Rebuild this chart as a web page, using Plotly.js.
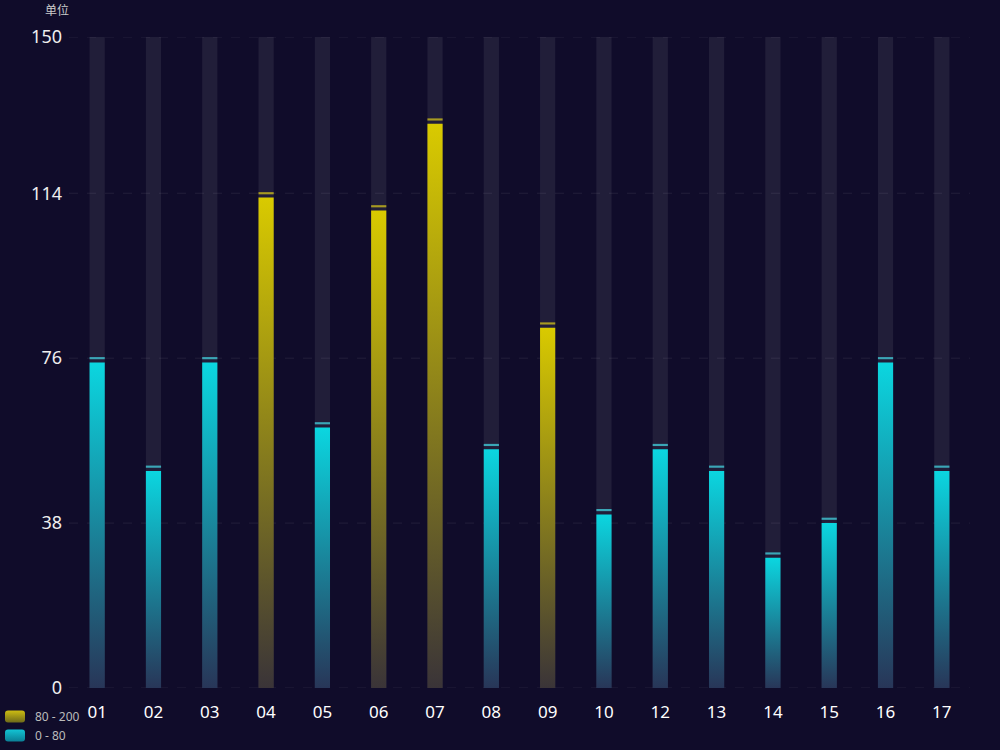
<!DOCTYPE html>
<html>
<head>
<meta charset="utf-8">
<script src="https://cdn.plot.ly/plotly-3.0.1.min.js"></script>
<style>
html,body{margin:0;padding:0;background:#100c2a;}
#chart{width:1000px;height:750px;}
</style>
</head>
<body>
<div id="chart"></div>
<script>
// ---- data ----
const categories = ['01','02','03','04','05','06','07','08','09','10','12','13','14','15','16','17'];
const values     = [75, 50, 75, 113, 60, 110, 130, 55, 83, 40, 55, 50, 30, 38, 75, 50];
const axisMax = 150;
const tickValues = [0, 38, 76, 114, 150];
const highLabel = '80 - 200';
const lowLabel = '0 - 80';
const threshold = 80;
const unitLabel = '单位';

// ---- styles ----
const BAR_W = 0.27;
const CAP_GAP = 0.75;
const CAP_H = 0.5;
const YELLOW_CAP = '#a79a22';
const CYAN_CAP = '#3ba6b6';

const highVals = values.map(v => v >= threshold ? v : null);
const lowVals  = values.map(v => v < threshold ? v : null);
const capBase = arr => arr.map(v => v === null ? null : v + CAP_GAP);
const capH = arr => arr.map(v => v === null ? null : CAP_H);

const traces = [
  { type:'bar', x:categories, y:categories.map(()=>axisMax), width:BAR_W,
    marker:{color:'rgba(255,255,255,0.075)'}, showlegend:false, hoverinfo:'skip' },
  { type:'bar', name:highLabel, x:categories, y:highVals, width:BAR_W,
    marker:{color:'#d4c600'}, legendgroup:'a' },
  { type:'bar', name:lowLabel, x:categories, y:lowVals, width:BAR_W,
    marker:{color:'#0bd2dc'}, legendgroup:'b' },
  { type:'bar', x:categories, y:capH(highVals), base:capBase(highVals), width:BAR_W,
    marker:{color:YELLOW_CAP}, showlegend:false, hoverinfo:'skip' },
  { type:'bar', x:categories, y:capH(lowVals), base:capBase(lowVals), width:BAR_W,
    marker:{color:CYAN_CAP}, showlegend:false, hoverinfo:'skip' }
];

const gridShapes = tickValues.map(v => ({
  type:'line', xref:'paper', yref:'y', x0:0, x1:1, y0:v, y1:v, layer:'below',
  line:{color:'rgba(255,255,255,0.08)', width:1, dash:'dash'}
}));

const layout = {
  width:1000, height:750,
  paper_bgcolor:'#100c2a', plot_bgcolor:'#100c2a',
  margin:{l:69, r:30, t:37, b:62, autoexpand:false},
  barmode:'overlay',
  font:{family:'"Noto Sans", "Noto Sans CJK SC", sans-serif', color:'#ffffff'},
  xaxis:{
    type:'category', categoryorder:'array', categoryarray:categories, automargin:false,
    showgrid:false, zeroline:false, showline:false, ticks:'',
    tickfont:{size:17, color:'#ffffff'}, ticklabelstandoff:12
  },
  yaxis:{
    range:[0, axisMax], tickvals:tickValues, ticktext:tickValues.map(String), automargin:false,
    showgrid:false, zeroline:false, showline:false, ticks:'',
    tickfont:{size:18, color:'#eeeeee'}, ticklabelstandoff:6
  },
  shapes:gridShapes,
  legend:{
    xref:'container', yref:'container', x:0, y:0, xanchor:'left', yanchor:'bottom',
    orientation:'v', font:{size:12, color:'#bbbbbb', family:'"Noto Sans", sans-serif'}, itemwidth:30,
    bgcolor:'rgba(0,0,0,0)', tracegroupgap:5, traceorder:'normal', itemclick:false
  },
  annotations:[{
    text:unitLabel, xref:'paper', yref:'paper', x:-0.013, y:1, xanchor:'center', yanchor:'bottom',
    yshift:17, showarrow:false, font:{size:12, color:'#cccccc', family:'"Noto Sans CJK SC", sans-serif'}
  }],
  showlegend:true
};

function addGradient(svg, id, top, bottom){
  const ns = 'http://www.w3.org/2000/svg';
  let defs = svg.querySelector('defs');
  if(!defs){ defs = document.createElementNS(ns,'defs'); svg.insertBefore(defs, svg.firstChild); }
  const g = document.createElementNS(ns,'linearGradient');
  g.setAttribute('id', id);
  g.setAttribute('x1','0'); g.setAttribute('y1','0'); g.setAttribute('x2','0'); g.setAttribute('y2','1');
  const s1 = document.createElementNS(ns,'stop'); s1.setAttribute('offset','0'); s1.setAttribute('stop-color', top);
  const s2 = document.createElementNS(ns,'stop'); s2.setAttribute('offset','1'); s2.setAttribute('stop-color', bottom);
  g.appendChild(s1); g.appendChild(s2); defs.appendChild(g);
}

Plotly.newPlot('chart', traces, layout, {displayModeBar:false, staticPlot:true}).then(gd => {
  const svg = gd.querySelector('.main-svg');
  addGradient(svg, 'gradYellow', '#d9ca00', '#3a3438');
  addGradient(svg, 'gradCyan', '#0bd6e0', '#283658');
  addGradient(svg, 'legYellow', '#cdbd12', '#6e6a1a');
  addGradient(svg, 'legCyan', '#12c4d4', '#0b7f95');
  const barTraces = gd.querySelectorAll('.barlayer .trace');
  barTraces[1].querySelectorAll('.point path').forEach(p => p.style.fill = 'url(#gradYellow)');
  barTraces[2].querySelectorAll('.point path').forEach(p => p.style.fill = 'url(#gradCyan)');
  const legItems = gd.querySelectorAll('.legend .traces');
  const ids = ['legYellow','legCyan'];
  legItems.forEach((it, i) => {
    const p = it.querySelector('.legendpoints path');
    if(p){
      p.setAttribute('d','M-7,-6H7A3,3 0 0 1 10,-3V3A3,3 0 0 1 7,6H-7A3,3 0 0 1 -10,3V-3A3,3 0 0 1 -7,-6Z');
      p.style.fill = 'url(#' + ids[i] + ')';
      p.style.stroke = 'none';
    }
  });
  const leg = gd.querySelector('g.legend');
  if(leg){
    const t = leg.getAttribute('transform') || '';
    const m = t.match(/translate\(\s*([-\d.]+)[ ,]+([-\d.]+)\s*\)/);
    if(m){ leg.setAttribute('transform', 'translate(' + (parseFloat(m[1]) - 5) + ',' + m[2] + ')'); }
  }
});
</script>
</body>
</html>
